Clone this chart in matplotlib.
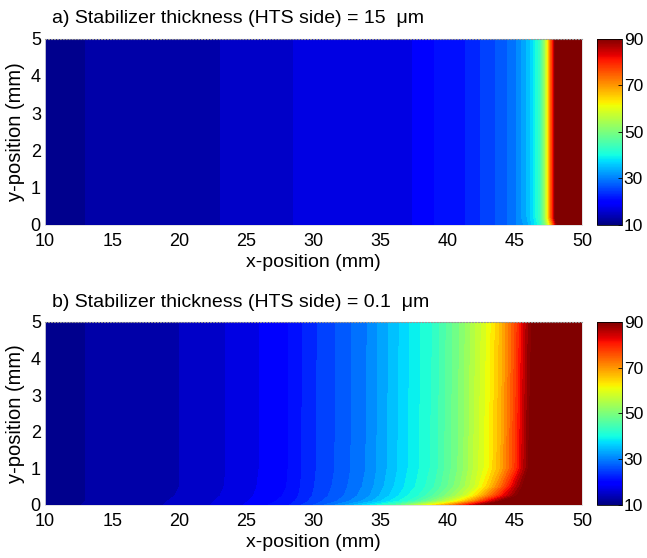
import matplotlib
matplotlib.use("Agg")
import matplotlib.pyplot as plt
import matplotlib.colors as mcolors
import matplotlib.cm as cm
import numpy as np

plt.rcParams['font.family'] = ['Liberation Sans', 'DejaVu Sans']

# panel a: 15 um stabilizer, temperature read along x for a few y rows
xa = [10, 13, 23, 28.5, 37.3, 39, 41.3, 42.4, 43.5, 44.4, 45.1, 45.9, 46.4,
      46.9, 47.2, 47.4, 47.6, 47.85, 48.05, 48.5, 50]
ya = [0, 0.2, 5]
ta_y0 = [11, 12, 14, 16, 18, 20, 22, 24, 26, 28, 30, 33, 37, 42, 48, 55, 63,
         74, 86, 97, 100]
ta_y02 = [11, 12, 14, 16, 18, 20, 22, 24, 26, 28, 30, 34, 38, 44, 52, 60, 70,
          82, 92, 98, 100]
ta_y5 = [11, 12, 14, 16, 18, 20, 22, 24, 26, 28, 30, 34, 38, 44, 52, 60, 70,
         82, 92, 98, 100]

# panel b: 0.1 um stabilizer
xb = [10, 13, 20, 24, 28, 30, 32, 34, 36, 37, 38, 39, 40, 41, 42, 43, 44, 45,
      46, 47, 50]
yb = [0, 0.1, 0.25, 0.5, 1.0, 5.0]
tb_y0 = [11, 12.1, 14.4, 17.2, 21.5, 26, 31, 37, 45, 51, 57, 63, 69, 77, 85,
         92, 97, 99, 100, 100, 100]
tb_y01 = [11, 12, 14.3, 16.9, 20.8, 24.8, 28.5, 33, 39, 42, 46, 51, 57, 64,
          72, 82, 90, 95, 98, 100, 100]
tb_y025 = [11, 12, 14.1, 16.6, 20.3, 24.2, 27.5, 31.5, 37, 40, 42.5, 46.5,
           51, 56, 63, 72, 81, 89, 96, 99, 100]
tb_y05 = [11, 12, 14, 16.4, 20, 23.9, 27, 30.7, 36, 38.6, 41, 44, 48, 52.5,
          58, 65, 74, 85, 94, 98, 100]
tb_y1 = [11, 12, 14, 16.3, 19.8, 23.7, 26.6, 30.2, 35.3, 37.9, 40.3, 42.8,
         47, 51, 56.5, 61.5, 68.5, 78, 90, 97, 100]
tb_y5 = [11, 12, 14, 16.3, 19.8, 23.6, 26.5, 30, 35, 37.6, 40, 42.3, 46.5,
         50.5, 55.5, 60.5, 67, 76, 88, 96, 100]

titles = ['a) Stabilizer thickness (HTS side) = 15  μm',
          'b) Stabilizer thickness (HTS side) = 0.1  μm']

levels = np.arange(10, 92, 2)
norm = mcolors.Normalize(vmin=10, vmax=90)

fig = plt.figure(figsize=(6.47, 5.58), dpi=100)

panels = [
    (xa, ya, [ta_y0, ta_y02, ta_y5], [0.0696, 0.597, 0.830, 0.334]),
    (xb, yb, [tb_y0, tb_y01, tb_y025, tb_y05, tb_y1, tb_y5],
     [0.0696, 0.095, 0.830, 0.328]),
]

for i, (xs, ys, rows, pos) in enumerate(panels):
    ax = fig.add_axes(pos)
    T = np.array(rows)
    ax.contourf(xs, ys, T, levels=levels, cmap='jet', norm=norm,
                extend='both')
    ax.set_xlim(10, 50)
    ax.set_ylim(0, 5)
    ax.set_xticks(range(10, 51, 5))
    ax.set_yticks(range(0, 6))
    ax.tick_params(direction='in', length=0, labelsize=13)
    ax.tick_params(axis='x', pad=6)
    ax.tick_params(axis='y', pad=3)
    for s in ['left', 'right', 'bottom']:
        ax.spines[s].set_color('#dddddd')
        ax.spines[s].set_linewidth(0.6)
    ax.spines['top'].set_color('#999999')
    ax.spines['top'].set_linestyle(':')
    ax.spines['top'].set_linewidth(0.8)
    ax.set_xlabel('x-position (mm)', fontsize=14, labelpad=3)
    ax.set_ylabel('y-position (mm)', fontsize=14.5, labelpad=4)
    fig.text(0.08, pos[1] + pos[3] + 0.02, titles[i], fontsize=14,
             va='bottom', ha='left')

    cax = fig.add_axes([0.922, pos[1], 0.040, pos[3]])
    sm = cm.ScalarMappable(norm=norm, cmap='jet')
    cb = fig.colorbar(sm, cax=cax, ticks=[10, 30, 50, 70, 90])
    cb.ax.tick_params(labelsize=12.5, direction='in', length=3, width=0.6,
                      pad=1)
    cb.outline.set_linewidth(0.6)

fig.savefig('out.png', dpi=100)
